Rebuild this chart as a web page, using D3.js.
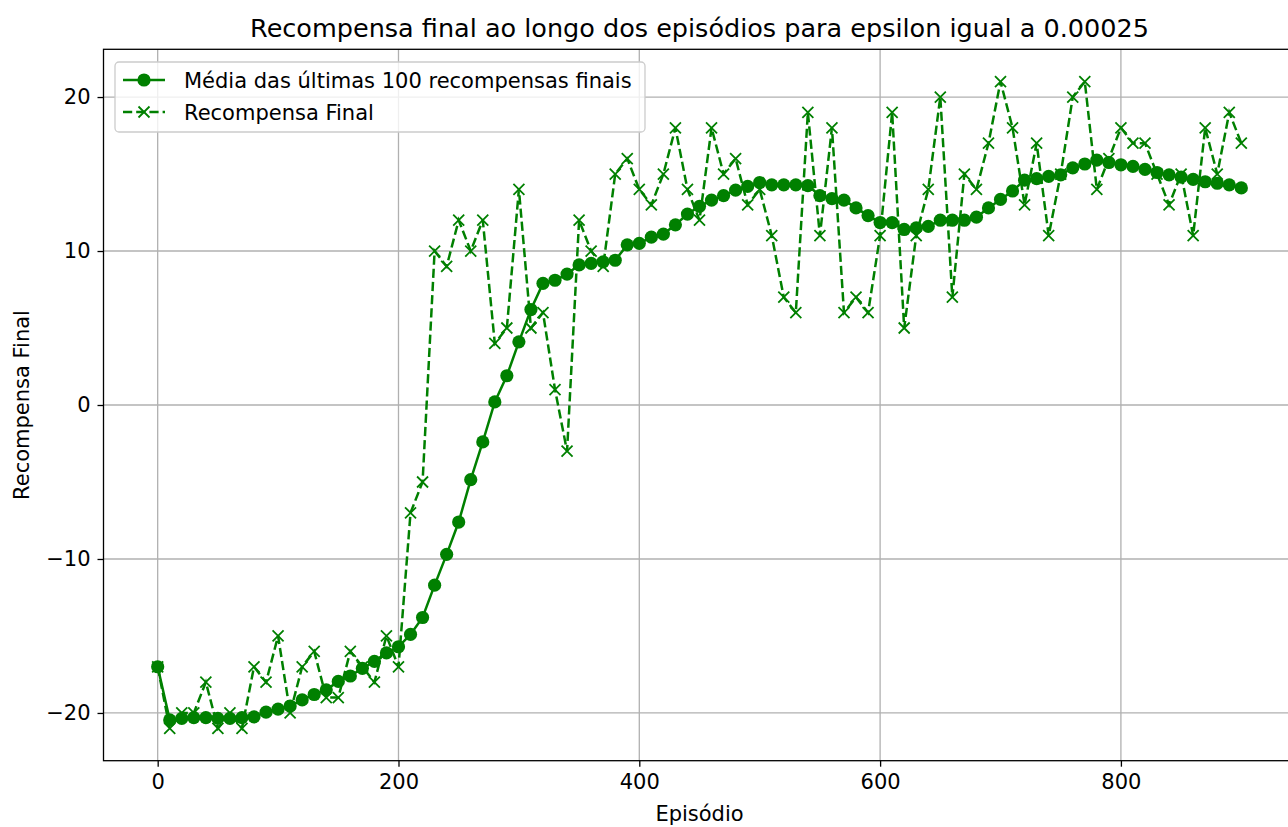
<!DOCTYPE html>
<html>
<head>
<meta charset="utf-8">
<script src="https://cdn.jsdelivr.net/npm/d3@7"></script>
<style>
  body { margin: 0; background: #fff; }
  svg { font-family: "DejaVu Sans", sans-serif; }
</style>
</head>
<body>
<div id="chart"></div>
<script>
// episodes sampled every 10
const episodes = d3.range(0, 901, 10);

// final reward at each sampled episode
const finalRewards = [
  -17, -21, -20, -20, -18, -21, -20, -21, -17, -18,
  -15, -20, -17, -16, -19, -19, -16, -17, -18, -15,
  -17, -7, -5, 10, 9, 12, 10, 12, 4, 5,
  14, 5, 6, 1, -3, 12, 10, 9, 15, 16,
  14, 13, 15, 18, 14, 12, 18, 15, 16, 13,
  14, 11, 7, 6, 19, 11, 18, 6, 7, 6,
  11, 19, 5, 11, 14, 20, 7, 15, 14, 17,
  21, 18, 13, 17, 11, 15, 20, 21, 14, 16,
  18, 17, 17, 15, 13, 15, 11, 18, 15, 19, 17
];

// mean of the last 100 final rewards
const meanRewards = [
  -17, -20.45, -20.35, -20.3, -20.3, -20.35, -20.35, -20.3, -20.25, -19.95,
  -19.75, -19.55, -19.15, -18.8, -18.5, -17.95, -17.6, -17.1, -16.65, -16.1,
  -15.7, -14.9, -13.8, -11.7, -9.7, -7.6, -4.85, -2.4, 0.2, 1.9,
  4.1, 6.2, 7.9, 8.1, 8.5, 9.1, 9.2, 9.3, 9.4, 10.4,
  10.5, 10.9, 11.1, 11.7, 12.4, 12.9, 13.3, 13.6, 13.95, 14.2,
  14.45, 14.3, 14.3, 14.3, 14.25, 13.6, 13.4, 13.3, 12.8, 12.3,
  11.85, 11.85, 11.4, 11.5, 11.6, 12.0, 12.0, 12.0, 12.2, 12.8,
  13.35, 13.9, 14.6, 14.7, 14.85, 14.95, 15.4, 15.65, 15.9, 15.75,
  15.6, 15.5, 15.3, 15.1, 14.95, 14.8, 14.65, 14.5, 14.4, 14.3, 14.1
];

const xTicks = [0, 200, 400, 600, 800];
const yTicks = [-20, -10, 0, 10, 20];
const legendLabels = ['Média das últimas 100 recompensas finais', 'Recompensa Final'];

const width = 1288, height = 827;
const green = '#008000';
const fontSize = '21px';

const svg = d3.select('#chart').append('svg')
  .attr('width', width)
  .attr('height', height);

// plot box (right edge runs past the picture, as in the reference)
const plotL = 103.5, plotR = 1295.5, plotT = 49.3, plotB = 760.7;

const x = d3.scaleLinear().domain([-45, 945]).range([plotL, plotR]);
const y = d3.scaleLinear().domain([-23.1, 23.1]).range([plotB, plotT]);

// grid
svg.append('g')
  .selectAll('line')
  .data(xTicks)
  .join('line')
  .attr('x1', d => x(d)).attr('x2', d => x(d))
  .attr('y1', plotT).attr('y2', plotB)
  .attr('stroke', '#b0b0b0').attr('stroke-width', 1.3);
svg.append('g')
  .selectAll('line')
  .data(yTicks)
  .join('line')
  .attr('x1', plotL).attr('x2', plotR)
  .attr('y1', d => y(d)).attr('y2', d => y(d))
  .attr('stroke', '#b0b0b0').attr('stroke-width', 1.3);

// axes
const xAxis = svg.append('g')
  .attr('transform', `translate(0,${plotB})`)
  .call(d3.axisBottom(x).tickValues(xTicks).tickSize(6).tickPadding(7).tickFormat(d3.format('d')));
const yAxis = svg.append('g')
  .attr('transform', `translate(${plotL},0)`)
  .call(d3.axisLeft(y).tickValues(yTicks).tickSize(6).tickPadding(7)
    .tickFormat(d => d < 0 ? '\u2212' + Math.abs(d) : d));
[xAxis, yAxis].forEach(a => {
  a.select('.domain').remove();
  a.selectAll('line').attr('stroke', '#000').attr('stroke-width', 1.3);
  a.selectAll('text').attr('fill', '#000').style('font-size', fontSize)
    .style('font-family', '"DejaVu Sans", sans-serif');
});

// spines
svg.append('rect')
  .attr('x', plotL).attr('y', plotT)
  .attr('width', plotR - plotL).attr('height', plotB - plotT)
  .attr('fill', 'none').attr('stroke', '#000').attr('stroke-width', 1.3);

// mean line with dots
const meanData = episodes.map((e, i) => [e, meanRewards[i]]);
const finalData = episodes.map((e, i) => [e, finalRewards[i]]);
const line = d3.line().x(d => x(d[0])).y(d => y(d[1]));

svg.append('path')
  .datum(meanData)
  .attr('d', line)
  .attr('fill', 'none').attr('stroke', green).attr('stroke-width', 2.5);
svg.append('g')
  .selectAll('circle')
  .data(meanData)
  .join('circle')
  .attr('cx', d => x(d[0])).attr('cy', d => y(d[1]))
  .attr('r', 6.6).attr('fill', green);

// final reward dashed line with x markers
svg.append('path')
  .datum(finalData)
  .attr('d', line)
  .attr('fill', 'none').attr('stroke', green).attr('stroke-width', 2.5)
  .attr('stroke-dasharray', '9.2,4');
const cross = (cx, cy, s) => `M${cx - s},${cy - s}L${cx + s},${cy + s}M${cx - s},${cy + s}L${cx + s},${cy - s}`;
svg.append('g')
  .selectAll('path')
  .data(finalData)
  .join('path')
  .attr('d', d => cross(x(d[0]), y(d[1]), 5.5))
  .attr('stroke', green).attr('stroke-width', 1.8).attr('fill', 'none');

// titles
svg.append('text')
  .attr('x', (plotL + plotR) / 2).attr('y', 37)
  .attr('text-anchor', 'middle')
  .style('font-size', '25.5px')
  .text('Recompensa final ao longo dos episódios para epsilon igual a 0.00025');
svg.append('text')
  .attr('x', (plotL + plotR) / 2).attr('y', 821)
  .attr('text-anchor', 'middle')
  .style('font-size', fontSize)
  .text('Episódio');
svg.append('text')
  .attr('transform', `translate(29,${(plotT + plotB) / 2}) rotate(-90)`)
  .attr('text-anchor', 'middle')
  .style('font-size', fontSize)
  .text('Recompensa Final');

// legend
const lg = svg.append('g').attr('transform', 'translate(115,62)');
lg.append('rect')
  .attr('width', 530).attr('height', 70).attr('rx', 4)
  .attr('fill', '#fff').attr('fill-opacity', 0.8)
  .attr('stroke', '#cccccc').attr('stroke-width', 1.3);
legendLabels.forEach((lab, i) => {
  const cy = 18 + i * 32;
  lg.append('line')
    .attr('x1', 8).attr('x2', 50).attr('y1', cy).attr('y2', cy)
    .attr('stroke', green).attr('stroke-width', 2.5)
    .attr('stroke-dasharray', i === 1 ? '9.2,4' : null);
  if (i === 0) {
    lg.append('circle').attr('cx', 29).attr('cy', cy).attr('r', 6.6).attr('fill', green);
  } else {
    lg.append('path').attr('d', cross(29, cy, 5.5))
      .attr('stroke', green).attr('stroke-width', 1.8);
  }
  lg.append('text')
    .attr('x', 69).attr('y', cy + 7.5)
    .style('font-size', fontSize)
    .text(lab);
});
</script>
</body>
</html>
